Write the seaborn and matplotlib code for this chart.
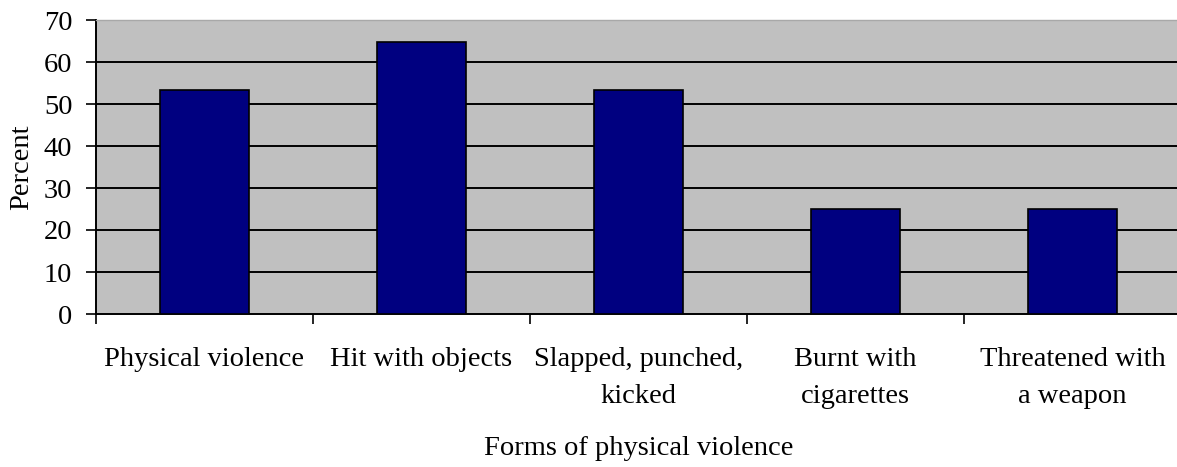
import matplotlib
matplotlib.use("Agg")
import matplotlib.pyplot as plt
import seaborn as sns
import pandas as pd

categories = ["Physical violence", "Hit with objects", "Slapped, punched,\nkicked",
              "Burnt with\ncigarettes", "Threatened with\na weapon"]
percent = [53.3, 64.7, 53.3, 25.0, 25.0]

sns.set_style("white")
plt.rcParams["font.family"] = ["Liberation Serif", "DejaVu Serif"]
plt.rcParams.update({"text.color": "black", "axes.labelcolor": "black",
                     "xtick.color": "black", "ytick.color": "black"})

df = pd.DataFrame({"form": categories, "pct": percent})

fig = plt.figure(figsize=(11.77, 4.67), dpi=100)
ax = fig.add_axes([96 / 1177, 1 - 314 / 467, (1181 - 96) / 1177, 294 / 467])
ax.set_facecolor("#c0c0c0")

sns.barplot(data=df, x="form", y="pct", color="#000080", saturation=1,
            width=0.41, edgecolor="black", linewidth=1.2, ax=ax, zorder=3)

ax.set_ylim(0, 70)
ax.set_xlim(-0.5, 4.5)
ax.set_yticks(range(0, 71, 10))
for y in range(10, 70, 10):
    ax.axhline(y, color="black", lw=1.4, zorder=1)

ax.tick_params(axis="y", which="major", direction="out", length=7, width=1.2,
               labelsize=20.5, pad=10, left=True)
ax.tick_params(axis="x", which="major", length=0, labelsize=20.5, pad=24)
for lbl in ax.get_xticklabels():
    lbl.set_linespacing(1.62)
ax.set_xticks([i + 0.5 for i in range(-1, 5)], minor=True)
ax.tick_params(axis="x", which="minor", direction="out", length=7, width=1.2,
               bottom=True)

for side in ("left", "bottom"):
    ax.spines[side].set_color("black")
    ax.spines[side].set_linewidth(1.4)
ax.spines["right"].set_visible(False)
ax.spines["top"].set_color("#a8a8a8")
ax.spines["top"].set_linewidth(1.0)

ax.set_xlabel("Forms of physical violence", fontsize=20.5, labelpad=19.5)
ax.set_ylabel("Percent", fontsize=20.5, labelpad=7)

fig.savefig("out.png", dpi=100)
